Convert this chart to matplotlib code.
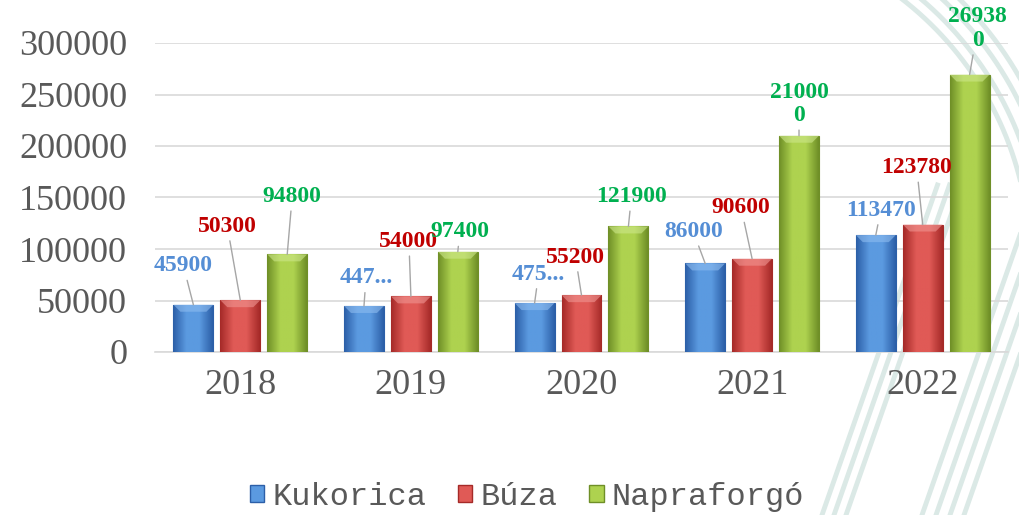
import numpy as np
import matplotlib.pyplot as plt
from matplotlib.patches import Patch, Polygon
from matplotlib.colors import LinearSegmentedColormap


### data
years = ['2018', '2019', '2020', '2021', '2022']
series = ['Kukorica', 'Búza', 'Napraforgó']
kukorica = [45900, 44700, 47500, 86000, 113470]
buza = [50300, 54000, 55200, 90600, 123780]
napraforgo = [94800, 97400, 121900, 210000, 269380]
values = [kukorica, buza, napraforgo]

# data label texts as shown on the chart (two are cut, two wrap)
label_text = [
    ['45900', '447...', '475...', '86000', '113470'],
    ['50300', '54000', '55200', '90600', '123780'],
    ['94800', '97400', '121900', '21000\n0', '26938\n0'],
]

# label offsets from bar top, in pixels
label_off = [
    [(-10, 39), (2, 28), (4, 29), (-12, 32), (5, 25)],
    [(-13, 74), (-2, 55), (-6, 38), (-11, 51), (-6, 57)],
    [(5, 58), (2, 20), (3, 30), (0, 32), (8, 46)],
]

bar_dark = ['#2c5fa8', '#a52a28', '#6f8f27']
bar_light = ['#5b9ae0', '#e05a56', '#aed24f']
bar_cap = ['#8dbcf0', '#f09592', '#cde78a']
label_col = ['#558ed5', '#c00000', '#00b050']
grey = '#595959'


### figure
fig = plt.figure(figsize=(10.19, 5.15), dpi=100)

# background swooshes (pixel coords)
bg = fig.add_axes([0, 0, 1, 1], zorder=0)
bg.set_xlim(0, 1019)
bg.set_ylim(515, 0)
bg.axis('off')
sw = '#dbe9e6'
th = np.linspace(-np.pi / 2, 0.05, 200)
for r in [330, 342, 356, 368]:
    bg.plot(700 + r * np.cos(th), 260 + r * np.sin(th), color=sw, lw=3.5)
for x0 in [822, 834, 846, 922, 936, 950, 964]:
    bg.plot([x0, x0 + 0.35 * 330], [515, 185], color=sw, lw=3.5)

ax = fig.add_axes([155 / 1019, 1 - 352 / 515, 853 / 1019, 309 / 515], zorder=1)
ax.patch.set_alpha(0)
ax.set_xlim(-0.5, 4.5)
ax.set_ylim(0, 300000)

x = np.arange(len(years))
w = 0.234
step = 0.275
cap_h = 7 / 309 * 300000   # bevel depth, ~7 px
cap_w = 7 / 170.6

for s in range(3):
    pos = x + (s - 1) * step
    bars = ax.bar(pos, values[s], w, color=bar_dark[s], edgecolor=bar_dark[s],
                  linewidth=0.8, zorder=3, label=series[s])
    cmap = LinearSegmentedColormap.from_list('g', [bar_dark[s], bar_light[s],
                                                   bar_light[s], bar_dark[s]])
    for b in bars:
        x0, x1, h = b.get_x(), b.get_x() + b.get_width(), b.get_height()
        im = ax.imshow(np.linspace(0, 1, 64).reshape(1, -1), cmap=cmap,
                       extent=[x0, x1, 0, h], aspect='auto', zorder=3.5)
        im.set_clip_path(b)
        ax.add_patch(Polygon([(x0, h), (x1, h), (x1 - cap_w, h - cap_h),
                              (x0 + cap_w, h - cap_h)], closed=True,
                             facecolor=bar_cap[s], edgecolor='none', alpha=0.6,
                             zorder=3.6))
    for i in range(len(years)):
        ax.annotate(label_text[s][i], xy=(pos[i], values[s][i]),
                    xytext=label_off[s][i], textcoords='offset pixels',
                    ha='center', va='center', color=label_col[s],
                    fontsize=17, fontweight='bold', family='Liberation Serif',
                    linespacing=1.15, zorder=5,
                    arrowprops=dict(arrowstyle='-', color='#a6a6a6', lw=1,
                                    shrinkA=1, shrinkB=0))

ax.set_xlim(-0.5, 4.5)
ax.set_ylim(0, 300000)
ax.set_yticks(range(0, 300001, 50000))
ax.set_xticks(x)
ax.set_xticklabels(years)
ax.yaxis.grid(True, color='#d9d9d9', lw=1.2)
ax.set_axisbelow(True)
for sp in ['top', 'right', 'left']:
    ax.spines[sp].set_visible(False)
ax.spines['bottom'].set_color('#d9d9d9')
ax.spines['bottom'].set_linewidth(1.2)
ax.tick_params(axis='both', length=0, labelcolor=grey, labelsize=26)
ax.tick_params(axis='y', pad=20)
ax.tick_params(axis='x', pad=12)
for t in ax.get_xticklabels() + ax.get_yticklabels():
    t.set_family('Liberation Serif')

handles = [Patch(facecolor=bar_light[s], edgecolor=bar_dark[s], label=series[s])
           for s in range(3)]
fig.legend(handles=handles, loc='center', bbox_to_anchor=(527 / 1019, 1 - 497 / 515),
           ncol=3, frameon=False, prop={'family': 'Liberation Mono', 'size': 23},
           labelcolor=grey, handlelength=0.45, handleheight=0.45,
           handletextpad=0.25, columnspacing=1.0)

fig.savefig('out.png', dpi=100)
